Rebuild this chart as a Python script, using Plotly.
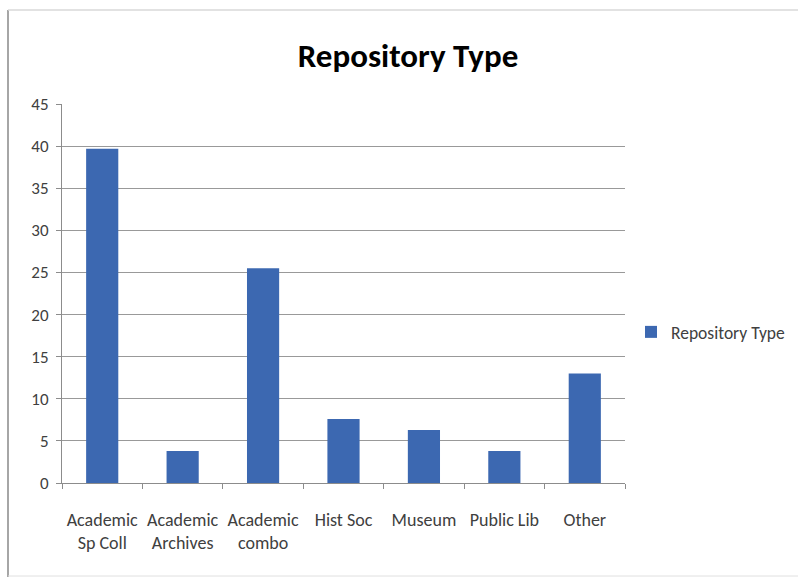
import plotly.graph_objects as go

categories = ["Academic<br>Sp Coll", "Academic<br>Archives", "Academic<br>combo",
              "Hist Soc", "Museum", "Public Lib", "Other"]
values = [39.7, 3.8, 25.5, 7.6, 6.3, 3.8, 13.0]
series_name = "Repository Type"
y_ticks = [0, 5, 10, 15, 20, 25, 30, 35, 40, 45]

W, H = 798, 577
L, R, T, B = 62, 173, 104, 94
pw, ph = W - L - R, H - T - B

def px_x(x):
    return (x - L) / pw

def px_y(y):
    return (H - B - y) / ph

FONT = "Carlito, Lato, 'Noto Sans', sans-serif"
TEXT = "#404040"
AXIS = "#8c8c8c"

fig = go.Figure(go.Bar(
    x=categories, y=values, name=series_name,
    marker=dict(color="#3c68b1", line=dict(width=0)),
    showlegend=True,
))

fig.update_layout(
    width=W, height=H,
    margin=dict(l=L, r=R, t=T, b=B, autoexpand=False),
    paper_bgcolor="white", plot_bgcolor="white",
    bargap=0.6,
    font=dict(family=FONT, size=17, color=TEXT),
    title=dict(text="<b>Repository Type</b>", xref="container", x=408 / W,
               xanchor="center", yref="container", y=1 - 55 / H, yanchor="middle",
               font=dict(family=FONT, size=33, color="#000000")),
    legend=dict(xref="container", yref="container", x=631 / W, y=1 - 332 / H,
                xanchor="left", yanchor="middle",
                font=dict(size=17.5, color=TEXT), itemwidth=30,
                bgcolor="rgba(0,0,0,0)"),
    xaxis=dict(showgrid=False, showline=True, linecolor=AXIS, linewidth=1,
               ticks="outside", tickson="boundaries", ticklen=5, tickcolor=AXIS,
               ticklabelstandoff=20, tickfont=dict(size=18, color=TEXT)),
    yaxis=dict(range=[0, 45], tickvals=y_ticks, showgrid=True, gridcolor="#999999",
               gridwidth=1, showline=True, linecolor=AXIS, linewidth=1,
               ticks="outside", ticklen=5, tickcolor=AXIS, zeroline=False,
               ticklabelstandoff=4, tickfont=dict(size=17, color=TEXT)),
    shapes=[
        dict(type="line", xref="paper", yref="paper", x0=px_x(8), x1=px_x(8),
             y0=px_y(577), y1=px_y(10), line=dict(color="#a6a6a6", width=2)),
        dict(type="line", xref="paper", yref="paper", x0=px_x(8), x1=px_x(798),
             y0=px_y(10), y1=px_y(10), line=dict(color="#d9d9d9", width=1.5)),
        dict(type="line", xref="paper", yref="paper", x0=px_x(8), x1=px_x(798),
             y0=px_y(576), y1=px_y(576), line=dict(color="#e0e0e0", width=1)),
    ],
)

fig.write_html("out.html")
